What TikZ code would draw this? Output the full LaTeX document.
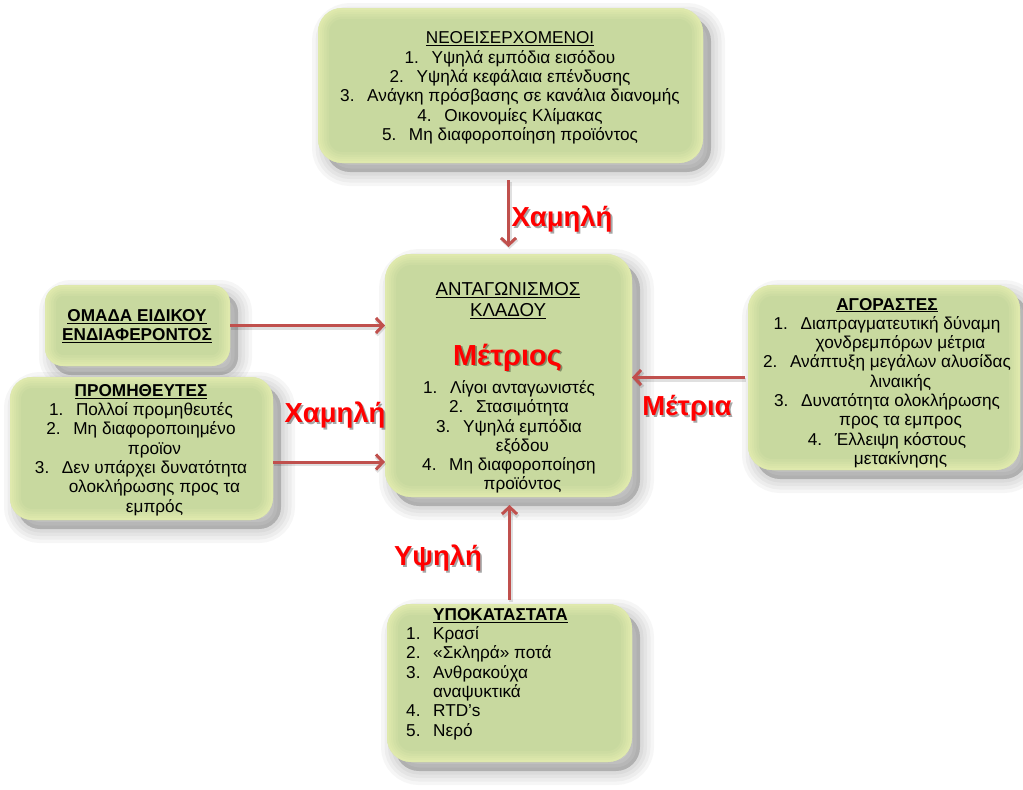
\documentclass[tikz,border=0pt]{standalone}
\usepackage{fontspec}
\setmainfont{Liberation Sans}
\usetikzlibrary{arrows.meta,calc}

\definecolor{panelgreen}{HTML}{C8D99F}
\definecolor{glowyellow}{HTML}{EEF5B6}
\definecolor{flowred}{HTML}{C0504D}
\definecolor{ratingred}{HTML}{FF0000}

% numbered item with a hanging indent, and the indent of a wrapped line
\newcommand\itm[1]{\makebox[27pt][l]{#1}}
\newcommand\cont{\hspace*{27pt}}
\newcommand\ttl[1]{\underline{\textbf{#1}}}

\tikzset{
  shadowlayer/.style={preaction={draw=black, fill=black, line width=#1, opacity=0.035,
      transform canvas={shift={(8pt,-9pt)}}}},
  panel/.style={
    rounded corners=#1, inner sep=0pt, outer sep=0pt, fill=panelgreen,
    shadowlayer=28pt, shadowlayer=21pt, shadowlayer=14pt, shadowlayer=7pt,
    preaction={fill=black, opacity=0.06,
      transform canvas={shift={(8pt,-9pt)}}},
    path picture={
      \foreach \w/\o in {22/0.14,17/0.16,12/0.18,8/0.2,4/0.25}
        \draw[glowyellow, opacity=\o, line width=\w pt, rounded corners=#1]
          (path picture bounding box.south west) rectangle (path picture bounding box.north east);
    }
  },
  listtext/.style={align=center, inner sep=0pt, font=\fontsize{17.2}{19.3}\selectfont},
  flow/.style={draw=flowred, line width=3pt,
    -{Straight Barb[length=7pt,width=15pt]},
    preaction={draw=black, opacity=0.12, line width=4pt,
      transform canvas={shift={(1pt,-2pt)}}}},
  rating/.style={text=ratingred, inner sep=0pt, font=\fontsize{27.5}{27.5}\selectfont\bfseries},
  ratingshadow/.style={text=black, opacity=0.35, inner sep=0pt, font=\fontsize{27.5}{27.5}\selectfont\bfseries},
}
\newcommand\rating[3]{%
  \node[ratingshadow] (#1-sh) at ($(#2)+(1.8,1.8)$) {#3};
  \node[rating] (#1) at (#2) {#3};}

\begin{document}
\begin{tikzpicture}[x=1pt,y=-1pt]
\useasboundingbox (0,0) rectangle (1023,790);
\fill[white] (0,0) rectangle (1023,790);

% panels
\node[panel=24pt, minimum width=385pt, minimum height=155pt] (newc)  at (510.5,85.5) {};
\node[panel=26pt, minimum width=247pt, minimum height=243pt] (rival) at (508.5,375.5) {};
\node[panel=24pt, minimum width=272pt, minimum height=185pt] (buyer) at (884,377.5) {};
\node[panel=18pt, minimum width=185pt, minimum height=81pt]  (sig)   at (137.5,325.5) {};
\node[panel=22pt, minimum width=263pt, minimum height=143pt] (supp)  at (141.5,448.5) {};
\node[panel=24pt, minimum width=245pt, minimum height=158pt] (subst) at (509.5,683) {};

% panel texts
\node[listtext] (newc-t) at (510,88) {%
  \underline{ΝΕΟΕΙΣΕΡΧΟΜΕΝΟΙ}\\
  \itm{1.}Υψηλά εμπόδια εισόδου\\
  \itm{2.}Υψηλά κεφάλαια επένδυσης\\
  \itm{3.}Ανάγκη πρόσβασης σε κανάλια διανομής\\
  \itm{4.}Οικονομίες Κλίμακας\\
  \itm{5.}Μη διαφοροποίηση προϊόντος};

\node[listtext, font=\fontsize{18.7}{21}\selectfont] (rival-t) at (508,301) {%
  \underline{ΑΝΤΑΓΩΝΙΣΜΟΣ}\\ \underline{ΚΛΑΔΟΥ}};
\node[listtext] (rival-l) at (509,437) {%
  \itm{1.}Λίγοι ανταγωνιστές\\
  \itm{2.}Στασιμότητα\\
  \itm{3.}Υψηλά εμπόδια\\
  \cont εξόδου\\
  \itm{4.}Μη διαφοροποίηση\\
  \cont προϊόντος};

\node[listtext] (buyer-t) at (887,383) {%
  \ttl{ΑΓΟΡΑΣΤΕΣ}\\
  \itm{1.}Διαπραγματευτική δύναμη\\
  \cont χονδρεμπόρων μέτρια\\
  \itm{2.}Ανάπτυξη μεγάλων αλυσίδας\\
  \cont λιναικής\\
  \itm{3.}Δυνατότητα ολοκλήρωσης\\
  \cont προς τα εμπρος\\
  \itm{4.}Έλλειψη κόστους\\
  \cont μετακίνησης};

\node[listtext] (sig-t) at (137,326) {%
  \ttl{ΟΜΑΔΑ ΕΙΔΙΚΟΥ}\\ \ttl{ΕΝΔΙΑΦΕΡΟΝΤΟΣ}};

\node[listtext] (supp-t) at (141,450) {%
  \ttl{ΠΡΟΜΗΘΕΥΤΕΣ}\\
  \itm{1.}Πολλοί προμηθευτές\\
  \itm{2.}Μη διαφοροποιημένο\\
  \cont προϊον\\
  \itm{3.}Δεν υπάρχει δυνατότητα\\
  \cont ολοκλήρωσης προς τα\\
  \cont εμπρός};

\node[listtext, align=left, anchor=west] (subst-t) at (406,674) {%
  \cont\ttl{ΥΠΟΚΑΤΑΣΤΑΤΑ}\\
  \itm{1.}Κρασί\\
  \itm{2.}«Σκληρά» ποτά\\
  \itm{3.}Ανθρακούχα\\
  \cont αναψυκτικά\\
  \itm{4.}RTD’s\\
  \itm{5.}Νερό};

% forces acting on the industry
\coordinate (supp-out) at ($(supp.east)+(0,13.5)$);
\draw[flow, shorten <=17pt, shorten >=7pt] (newc.south -| rival.north) -- (rival.north);
\draw[flow] (sig.east) -- (sig.east -| rival.west);
\draw[flow] (supp-out) -- (supp-out -| rival.west);
\draw[flow, shorten <=3pt] (buyer.west) -- (buyer.west -| rival.east);
\draw[flow, shorten <=4pt, shorten >=8pt] (subst.north) -- (subst.north |- rival.south);

% ratings
\rating{r-newc}{562,219}{Χαμηλή}
\rating{r-supp}{335,415}{Χαμηλή}
\rating{r-buyer}{687,408}{Μέτρια}
\rating{r-subst}{438,558}{Υψηλή}
\node[ratingshadow, font=\fontsize{29}{29}\selectfont\bfseries] (r-rival-sh) at (509.3,359.3) {Μέτριος};
\node[rating, font=\fontsize{29}{29}\selectfont\bfseries] (r-rival) at (507.5,357.5) {Μέτριος};
\end{tikzpicture}
\end{document}
